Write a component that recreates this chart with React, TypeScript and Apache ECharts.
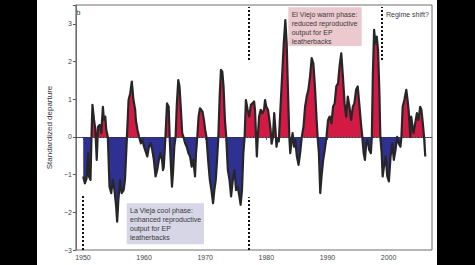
import React, { useEffect, useRef } from "react";
import * as echarts from "echarts";

// Year (decimal) of each reading
const years: number[] = [
  1950.05, 1950.32, 1950.6, 1950.86, 1951.0, 1951.24, 1951.4, 1951.56, 1951.82, 1952.04,
  1952.26, 1952.47, 1952.74, 1953.0, 1953.27, 1953.44, 1953.66, 1953.82, 1954.08, 1954.35,
  1954.63, 1954.89, 1955.16, 1955.44, 1955.6, 1955.8, 1956.08, 1956.34, 1956.66, 1956.88,
  1957.2, 1957.47, 1957.74, 1958.0, 1958.27, 1958.55, 1958.66, 1958.92, 1959.19, 1959.47,
  1959.73, 1960.0, 1960.27, 1960.53, 1960.8, 1961.08, 1961.34, 1961.61, 1961.88, 1962.15,
  1962.42, 1962.69, 1962.95, 1963.1, 1963.23, 1963.5, 1963.76, 1964.03, 1964.19, 1964.4,
  1964.57, 1964.73, 1964.95, 1965.16, 1965.37, 1965.6, 1965.8, 1966.0, 1966.24, 1966.45,
  1966.72, 1966.98, 1967.26, 1967.53, 1967.79, 1968.06, 1968.34, 1968.5, 1968.71, 1968.92,
  1969.15, 1969.35, 1969.56, 1969.79, 1970.0, 1970.21, 1970.48, 1970.76, 1971.02, 1971.29,
  1971.5, 1971.73, 1971.94, 1972.15, 1972.37, 1972.58, 1972.8, 1973.0, 1973.23, 1973.44,
  1973.71, 1973.98, 1974.24, 1974.52, 1974.79, 1975.05, 1975.32, 1975.6, 1975.8, 1976.02,
  1976.24, 1976.45, 1976.66, 1976.94, 1977.2, 1977.47, 1977.74, 1978.0, 1978.15, 1978.45,
  1978.6, 1978.82, 1979.08, 1979.35, 1979.63, 1979.79, 1980.0, 1980.27, 1980.43, 1980.7,
  1980.86, 1981.08, 1981.29, 1981.5, 1981.66, 1981.82, 1982.04, 1982.3, 1982.58, 1982.85,
  1983.11, 1983.33, 1983.55, 1983.76, 1983.92, 1984.08, 1984.3, 1984.52, 1984.73, 1985.0,
  1985.27, 1985.53, 1985.8, 1986.08, 1986.34, 1986.61, 1986.88, 1987.15, 1987.42, 1987.69,
  1987.95, 1988.23, 1988.39, 1988.6, 1988.82, 1989.03, 1989.3, 1989.56, 1989.84, 1990.1,
  1990.37, 1990.65, 1990.92, 1991.18, 1991.45, 1991.73, 1991.98, 1992.26, 1992.53, 1992.8,
  1993.06, 1993.33, 1993.6, 1993.87, 1994.15, 1994.4, 1994.68, 1994.95, 1995.2, 1995.48,
  1995.7, 1995.92, 1996.13, 1996.34, 1996.56, 1996.82, 1997.1, 1997.26, 1997.42, 1997.63,
  1997.85, 1998.06, 1998.27, 1998.5, 1998.65, 1998.87, 1999.03, 1999.24, 1999.52, 1999.79,
  2000.05, 2000.32, 2000.6, 2000.86, 2001.13, 2001.4, 2001.66, 2001.94, 2002.1, 2002.3,
  2002.58, 2002.9, 2003.1, 2003.27, 2003.55, 2003.7, 2003.92, 2004.08, 2004.35, 2004.63,
  2004.9, 2005.16, 2005.37, 2005.6, 2005.8, 2006.0,
];

// Standardized departure at each year above
const departure: number[] = [
  -1.05, -1.23, -1.1, -0.43, -1.05, -1.14, 0, 0.85, 0.45, 0.19,
  -0.61, 0.27, 0.32, 0.1, 0.8, 0.45, 0.54, 0.19, 0, -1.32,
  -1.49, -1.14, -1.41, -1.85, -2.25, -1.67, -1.14, -1.49, -1.41, -1.14,
  0, 0.98, 1.16, 1.47, 0.98, 0.72, 0.45, 0.19, 0, -0.17,
  -0.08, -0.26, -0.39, -0.52, -0.26, -0.17, -0.34, -0.61, -1.05, -0.88,
  -0.61, -0.43, -0.61, -0.88, -0.79, 0, 0.89, 0.8, 0, -0.79,
  -1.32, -0.96, -0.26, 0, 0.89, 1.51, 1.34, 0.8, 0.1, 0,
  -0.17, -0.26, -0.43, -0.52, -0.79, -0.61, -1.05, -0.43, 0, 0.54,
  0.76, 0.72, 0.67, 0.45, 0.19, 0, -0.61, -1.14, -1.41, -1.76,
  -1.41, -1.14, -0.61, 0, 1.07, 1.78, 1.73, 1.34, 0.45, 0,
  -0.88, -1.14, -1.58, -1.14, -0.88, -1.41, -1.32, -1.58, -1.8, -1.41,
  -0.43, 0, 0.98, 0.72, 0.54, 0.85, 0.89, 0.94, 0.72, -0.52,
  0, 0.54, 0.72, 0.63, 0.72, 0.98, 0.8, 0.72, 0.54, 0.19,
  -0.18, 0, 0.63, 0.19, -0.26, -0.08, -0.12, 0.72, 1.6, 2.48,
  3.1, 2.48, 1.16, 0, -0.43, -0.17, 0.1, -0.26, -0.08, -0.52,
  -0.74, -0.43, 0, 0.27, 0.8, 1.07, 1.25, 1.6, 2.09, 1.95,
  1.34, 0.45, 0, -0.43, -1.49, -1.05, -0.61, -0.34, 0, 0.45,
  0.54, 0.36, 0.8, 0.89, 1.34, 1.42, 1.87, 2.22, 1.6, 0.89,
  0.54, 1.07, 0.8, 0.45, 0.8, 0.89, 1.25, 1.34, 0.89, 0.36,
  0, -0.43, -0.61, -0.17, -0.08, -0.34, -0.43, 0, 1.6, 2.84,
  2.48, 2.66, 2.31, 1.16, 0, -0.43, -1.05, -0.79, -0.52, -1.05,
  -1.18, -0.52, -0.17, -0.61, -0.34, 0, -0.17, -0.26, 0, 0.8,
  0.98, 1.25, 0.98, 0.72, 0, 0.54, 0.27, 0.1, 0.36, 0.63,
  0.45, 0.8, 0.72, 0.36, 0, -0.52,
];

const xTicks: number[] = [1950, 1960, 1970, 1980, 1990, 2000];

// Regime-shift markers: [year, from, to]
const shiftMarks: [number, number, number][] = [
  [1950, -3, -1.55],
  [1977.1, -3, -1.6],
  [1977.1, 2.04, 3.45],
  [1998.9, 2.04, 3.45],
];

const warmText = ["El Viejo warm phase:", "reduced reproductive", "output for EP", "leatherbacks"];
const coolText = ["La Vieja cool phase:", "enhanced reproductive", "output for EP", "leatherbacks"];

const FONT = "Liberation Sans, Arial, Helvetica, sans-serif";

export default function App() {
  const ref = useRef<HTMLDivElement>(null);

  useEffect(() => {
    document.body.style.margin = "0";
    if (!ref.current) return;
    const chart = echarts.init(ref.current, null, { renderer: "svg" });
    const data = years.map((y, i) => [y, departure[i]]);
    const fmtNum = (v: number) => (v < 0 ? "\u2212" + Math.abs(v) : String(v));

    const markData: any[] = [
      { yAxis: 0, lineStyle: { color: "#333", width: 1.2, type: [1.5, 1.5] } },
    ];
    shiftMarks.forEach(([x, a, b]) => {
      markData.push([
        { coord: [x, a], lineStyle: { color: "#111", width: 2, type: [2, 2] } },
        { coord: [x, b] },
      ]);
    });

    chart.setOption({
      animation: false,
      backgroundColor: "#ffffff",
      grid: {
        left: 34,
        right: 5,
        top: 5,
        bottom: 15,
        show: true,
        borderColor: "#6e6e6e",
        borderWidth: 1,
        containLabel: false,
      },
      xAxis: {
        type: "value",
        min: 1948.85,
        max: 2007.1,
        splitNumber: 6,
        splitLine: { show: false },
        axisLine: { show: true, lineStyle: { color: "#6e6e6e", width: 1 } },
        axisTick: { show: true, length: 3, lineStyle: { color: "#555" } },
        axisLabel: {
          fontSize: 7,
          color: "#444",
          fontFamily: FONT,
          margin: 4,
          showMinLabel: false,
          showMaxLabel: false,
          formatter: (v: number) => (xTicks.indexOf(v) >= 0 ? String(v) : ""),
        },
      },
      yAxis: {
        type: "value",
        min: -3,
        max: 3.5,
        interval: 1,
        splitLine: { show: false },
        axisLine: { show: true, lineStyle: { color: "#6e6e6e", width: 1 } },
        axisTick: { show: true, length: 3, lineStyle: { color: "#555" } },
        axisLabel: {
          fontSize: 7,
          color: "#444",
          fontFamily: FONT,
          margin: 4,
          formatter: (v: number) => (Number.isInteger(v) ? fmtNum(v) : ""),
        },
        name: "Standardized departure",
        nameLocation: "middle",
        nameGap: 17,
        nameTextStyle: { fontSize: 8, color: "#333", fontFamily: FONT },
      },
      visualMap: {
        type: "piecewise",
        show: false,
        dimension: 1,
        seriesIndex: 0,
        pieces: [
          { min: -10, max: 0, color: "#2e3192" },
          { min: 0, max: 10, color: "#d21a45" },
        ],
      },
      series: [
        {
          type: "line",
          data,
          symbol: "none",
          showSymbol: false,
          lineStyle: { color: "#262626", width: 2.2, join: "round" },
          areaStyle: { opacity: 1, origin: 0 },
          z: 2,
          markLine: {
            silent: true,
            symbol: "none",
            label: { show: false },
            animation: false,
            data: markData,
          },
        },
      ],
      graphic: [
        {
          type: "text",
          left: 39,
          top: 8,
          style: { text: "b", fontSize: 8, fill: "#333", fontFamily: FONT },
        },
        {
          type: "rect",
          shape: { x: 251.3, y: 7.3, width: 73.4, height: 38.7 },
          style: { fill: "#ebc9cf" },
          z: 10,
        },
        {
          type: "text",
          x: 254.7,
          y: 10.6,
          z: 11,
          style: {
            text: warmText.join("\n"),
            fontSize: 7,
            lineHeight: 8.7,
            fill: "#3a3a3a",
            fontFamily: FONT,
          },
        },
        {
          type: "rect",
          shape: { x: 89.7, y: 203.3, width: 77.3, height: 41 },
          style: { fill: "#d6d6e7" },
          z: 10,
        },
        {
          type: "text",
          x: 93,
          y: 206.3,
          z: 11,
          style: {
            text: coolText.join("\n"),
            fontSize: 7,
            lineHeight: 8.8,
            fill: "#3a3a3a",
            fontFamily: FONT,
          },
        },
        {
          type: "text",
          x: 349,
          y: 11,
          z: 11,
          style: { text: "Regime shift?", fontSize: 7, fill: "#3a3a3a", fontFamily: FONT },
        },
      ],
    });

    return () => chart.dispose();
  }, []);

  return (
    <div style={{ position: "fixed", left: 0, top: 0, width: 475, height: 265, background: "#000" }}>
      <div
        ref={ref}
        style={{ position: "absolute", left: 37, top: 0, width: 400, height: 265, background: "#fff" }}
      />
    </div>
  );
}
